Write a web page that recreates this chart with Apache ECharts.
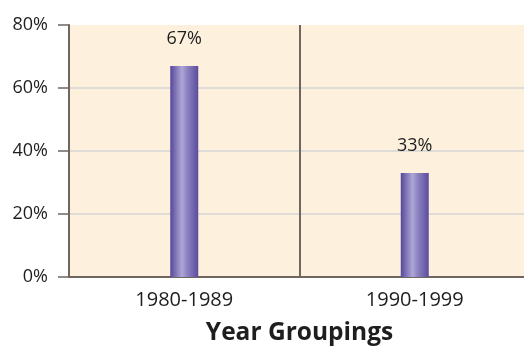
<!DOCTYPE html>
<html>
<head>
<meta charset="utf-8">
<script src="https://cdn.jsdelivr.net/npm/echarts@6/dist/echarts.min.js"></script>
<style>
  html, body { margin: 0; padding: 0; background: #ffffff; }
  #chart { width: 524px; height: 346px; }
</style>
</head>
<body>
<div id="chart"></div>
<script>
// Share of items per decade
const categories = ['1980-1989', '1990-1999'];
const shares = [67, 33];
const yTicks = [0, 20, 40, 60, 80];
const xAxisTitle = 'Year Groupings';

const font = '"Open Sans", "Noto Sans", sans-serif';
const chart = echarts.init(document.getElementById('chart'), null, { renderer: 'canvas' });

const barFill = new echarts.graphic.LinearGradient(0, 0, 1, 0, [
  { offset: 0, color: '#56479a' },
  { offset: 0.42, color: '#aea7d6' },
  { offset: 0.6, color: '#8d84c2' },
  { offset: 1, color: '#5b4c9c' }
]);

chart.setOption({
  animation: false,
  grid: {
    left: 69,
    top: 25,
    width: 461,
    height: 252,
    outerBoundsMode: 'none',
    containLabel: false,
    show: true,
    backgroundColor: '#fdf1de',
    borderWidth: 0
  },
  xAxis: {
    type: 'category',
    data: categories,
    boundaryGap: true,
    axisLine: { show: true, lineStyle: { color: '#6f6660', width: 2 } },
    axisTick: { show: false },
    // only the divider between the two decades is drawn
    splitLine: { show: true, lineStyle: { color: ['transparent', '#6f6660', 'transparent'], width: 2 } },
    axisLabel: { color: '#1e1e1e', fontSize: 20, fontFamily: font, margin: 13 },
    name: xAxisTitle,
    nameLocation: 'middle',
    nameGap: 44,
    nameTextStyle: { color: '#1e1e1e', fontSize: 24.5, fontWeight: 'bold', fontFamily: font }
  },
  yAxis: {
    type: 'value',
    min: yTicks[0],
    max: yTicks[yTicks.length - 1],
    interval: 20,
    axisLine: { show: true, lineStyle: { color: '#6f6660', width: 2 } },
    axisTick: { show: true, length: 11, lineStyle: { color: '#6f6660', width: 1.5 } },
    splitLine: {
      show: true,
      lineStyle: { color: ['#d4d4d4', '#d4d4d4', '#d4d4d4', '#d4d4d4', 'transparent'], width: 1.5 }
    },
    axisLabel: {
      color: '#1e1e1e',
      fontSize: 18,
      fontFamily: font,
      margin: 21,
      formatter: v => v + '%'
    }
  },
  series: [{
    type: 'bar',
    data: shares,
    barWidth: 28,
    itemStyle: { color: barFill },
    label: {
      show: true,
      position: 'top',
      distance: 18,
      color: '#1e1e1e',
      fontSize: 18,
      fontFamily: font,
      formatter: p => p.value + '%'
    }
  }]
});
</script>
</body>
</html>
